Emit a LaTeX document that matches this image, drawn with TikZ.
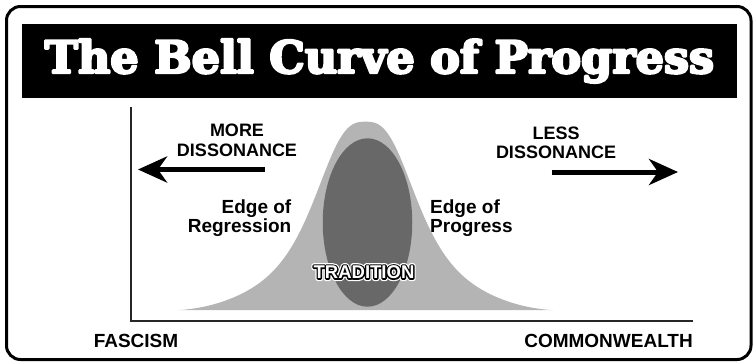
\documentclass[tikz,border=0pt]{standalone}
\usepackage{fontspec}
\setmainfont{Liberation Sans}
\newfontfamily\titlefont{DejaVu Serif}
\usetikzlibrary{arrows.meta,calc,shapes.geometric}
\definecolor{bellgray}{RGB}{180,180,180}
\definecolor{ovalgray}{RGB}{104,104,104}
\newcommand{\trmode}[1]{\special{pdf:literal direct #1}}
\tikzset{
  lbl/.style={inner sep=0pt, font=\bfseries\fontsize{18}{19.5}\selectfont, align=center},
  edgelbl/.style={inner sep=0pt, font=\bfseries\fontsize{19}{19.5}\selectfont},
  axislbl/.style={inner sep=0pt, font=\bfseries\fontsize{19}{20}\selectfont, anchor=base},
  bigarrow/.style={line width=5pt, -{Stealth[length=29pt, width=26pt, inset=9pt]}},
  tradfont/.style={inner sep=0pt, anchor=base, font=\bfseries\fontsize{18.5}{20}\selectfont},
}
\begin{document}
\begin{tikzpicture}[x=1pt,y=-1pt]
\useasboundingbox (0,0) rectangle (754,362);
% outer frame
\draw[line width=3pt, rounded corners=14pt] (6.5,6.5) rectangle (751,359.5);
% title bar
\node[fill=black, inner sep=0pt, minimum width=715pt, minimum height=74pt] (bar) at (379.5,61) {};
\node[inner sep=0pt, anchor=base, text=white, font=\titlefont\bfseries\fontsize{44.5}{50}\selectfont] (title) at (379.5,73)
  {\color{white}\trmode{2 Tr 2.4 w 1 j 1 1 1 RG}The Bell Curve of Progress\trmode{0 Tr}};
% bell curve
\fill[bellgray] plot[domain=178:553, samples=200, smooth]
  (\x, {311-189.3*exp(-(abs(\x-365.5)/165)^6)/(1+(abs(\x-365.5)/58.5)^2.8)}) -- cycle;
% tradition oval
\node[fill=ovalgray, ellipse, inner sep=0pt, minimum width=89.5pt, minimum height=168.4pt] (oval) at (367.5,222.5) {};
% axes
\coordinate (ytop) at (131,107);
\coordinate (origin) at (131,321);
\coordinate (xend) at (693,321);
\draw[line width=1.5pt, black!85] (ytop) -- (origin) -- (xend);
% arrows
\coordinate (la0) at (265,169.5);
\coordinate (la1) at (138,169.5);
\coordinate (ra0) at (551.5,172);
\coordinate (ra1) at (678,172);
\draw[bigarrow] (la0) -- (la1);
\draw[bigarrow] (ra0) -- (ra1);
% labels
\node[lbl] (more) at (237,140.5) {MORE\\DISSONANCE};
\node[lbl] (less) at (556,143) {LESS\\DISSONANCE};
\node[edgelbl, anchor=north east, align=right] (regr) at (291.5,199.5) {Edge of\\Regression};
\node[edgelbl, anchor=north west, align=left] (prog) at (430,199.5) {Edge of\\Progress};
\node[axislbl] (fasc) at (136,347) {FASCISM};
\node[axislbl, anchor=base east] (comm) at (693,347) {COMMONWEALTH};
% TRADITION with outline
\node[tradfont] (trad) at (364,278.5)
  {\rlap{\color{white}\trmode{1 Tr 5.2 w 1 j 1 1 1 RG}TRADITION\trmode{0 Tr}}%
   \rlap{\color{black}\trmode{2 Tr 2.8 w 1 j 0 0 0 RG}TRADITION\trmode{0 Tr}}%
   {\color{white}TRADITION}};
\end{tikzpicture}
\end{document}
